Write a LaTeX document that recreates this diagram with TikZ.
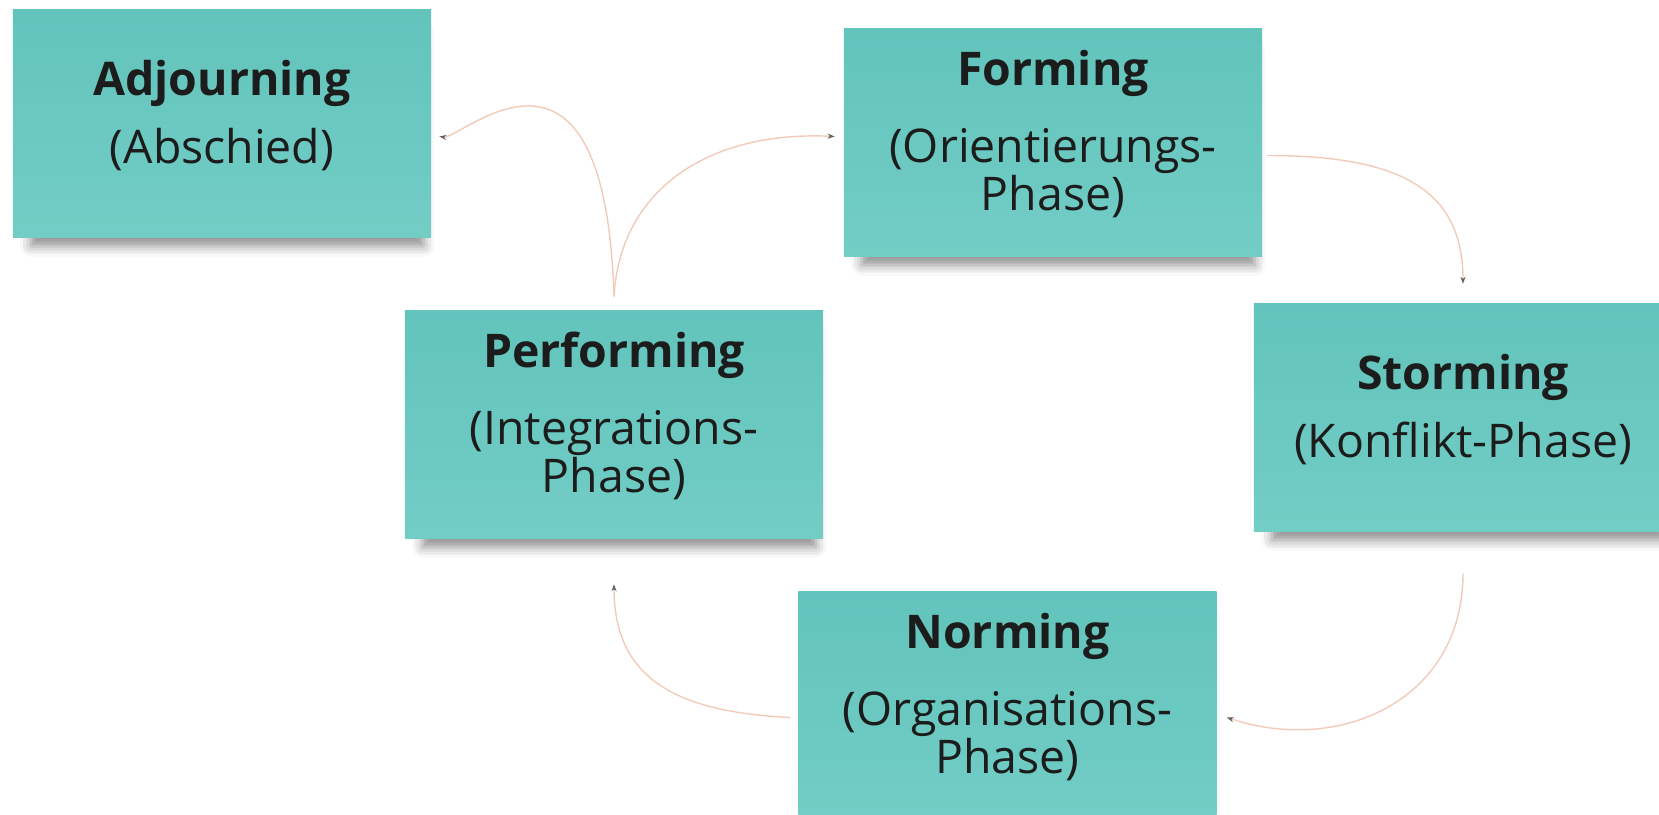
\documentclass[tikz,border=0pt]{standalone}
\usepackage{fontspec}
\setmainfont{Open Sans}
\usetikzlibrary{positioning, arrows.meta, calc, shadows.blur}

\definecolor{boxtop}{RGB}{98,196,188}
\definecolor{boxbottom}{RGB}{114,205,197}
\definecolor{linkpeach}{RGB}{242,203,184}
\definecolor{tipgray}{RGB}{95,95,95}
\definecolor{labeltext}{RGB}{28,28,28}

\newcommand{\phasetext}[3][20pt]{\textbf{#2}\\[#1]#3}

\begin{document}
\begin{tikzpicture}[x=0.025cm, y=-0.025cm, >={Stealth[length=5pt, width=3.6pt, color=tipgray]},
    stagebox/.style={rectangle, minimum width=10.45cm, minimum height=5.675cm,
        top color=boxtop, bottom color=boxbottom, text=labeltext, align=center,
        font=\fontsize{33pt}{34.5pt}\selectfont, text depth=17pt,
        blur shadow={shadow xshift=4pt, shadow yshift=-12pt, shadow scale=0.94,
            shadow blur radius=8pt, shadow opacity=45}},
    link/.style={draw=linkpeach, line width=1pt, ->}]
    \useasboundingbox (0,0) rectangle (1659,815);

    \node[stagebox] (adj) at (222,123.5) {\phasetext[14pt]{Adjourning}{(Abschied)}};
    \node[stagebox] (form) at (1053,142.5) {\phasetext{Forming}{(Orientierungs-\\Phase)}};
    \node[stagebox] (storm) at (1463,417.5) {\phasetext[14pt]{Storming}{(Konflikt-Phase)}};
    \node[stagebox] (norm) at (1007.5,705.5) {\phasetext{Norming}{(Organisations-\\Phase)}};
    \node[stagebox] (perf) at (614,424.5) {\phasetext{Performing}{(Integrations-\\Phase)}};

    \draw[link] ($(form.east)+(5,13)$) .. controls +(133,0) and +(0,-94) .. ($(storm.north)+(0,-20)$);
    \draw[link] ($(storm.south)+(0,42)$) .. controls +(0,127) and +(113,37.5) .. ($(norm.east)+(10,12)$);
    \draw[link] ($(norm.west)+(-8,12)$) .. controls +(-110,-5.5) and +(0,97) .. ($(perf.south)+(0,46)$);
    \draw[link] ($(perf.north)+(0,-14)$) .. controls +(6,-108) and +(-125,-6) .. ($(form.west)+(-9,-6)$);
    \draw[link] ($(perf.north)+(0,-14)$) .. controls +(-9,-298) and +(22,3) .. ($(adj.east)+(8,13)$);
\end{tikzpicture}
\end{document}
